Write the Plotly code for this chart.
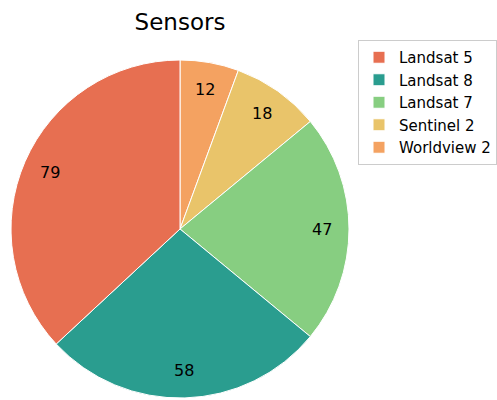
import math
import plotly.graph_objects as go

labels = ["Landsat 5", "Landsat 8", "Landsat 7", "Sentinel 2", "Worldview 2"]
values = [79, 58, 47, 18, 12]
colors = ["#E76F51", "#2A9D8F", "#87CE81", "#E9C46A", "#F4A261"]

W, H = 497, 400
cx, cy, r = 180, 229, 169

# slices run counterclockwise from 12 o'clock: drawn clockwise in reverse order
fig = go.Figure(go.Pie(
    labels=labels[::-1], values=values[::-1], sort=False, direction="clockwise", rotation=0,
    marker=dict(colors=colors[::-1], line=dict(color="white", width=1)),
    textinfo="none", hoverinfo="label+value",
    domain=dict(x=[(cx - r) / W, (cx + r) / W], y=[1 - (cy + r) / H, 1 - (cy - r) / H]),
))

# value labels placed at ~0.85 of the radius at each slice's mid-angle (counterclockwise from top)
total = sum(values)
start = 90.0
anns = []
for v in values:
    span = v / total * 360
    mid = math.radians(start + span / 2)
    start += span
    px = cx + 142 * math.cos(mid)
    py = cy - 142 * math.sin(mid)
    anns.append(dict(x=px / W, y=1 - py / H, xref="paper", yref="paper", text=str(v),
                     showarrow=False, font=dict(size=16, color="black", family="DejaVu Sans"),
                     xanchor="center", yanchor="middle"))

fig.update_layout(
    width=W, height=H, margin=dict(l=0, r=0, t=0, b=0),
    paper_bgcolor="white", plot_bgcolor="white",
    font=dict(family="DejaVu Sans", color="black"),
    title=dict(text="Sensors", x=cx / W, y=1 - 22 / H, xanchor="center", yanchor="middle",
               font=dict(size=23, family="DejaVu Sans", color="black")),
    legend=dict(x=358 / W, y=1 - 40 / H, xanchor="left", yanchor="top", traceorder="reversed",
                bordercolor="#cccccc", borderwidth=1, bgcolor="white",
                font=dict(size=15, family="DejaVu Sans", color="black")),
    annotations=anns,
)

fig.write_html("out.html")
